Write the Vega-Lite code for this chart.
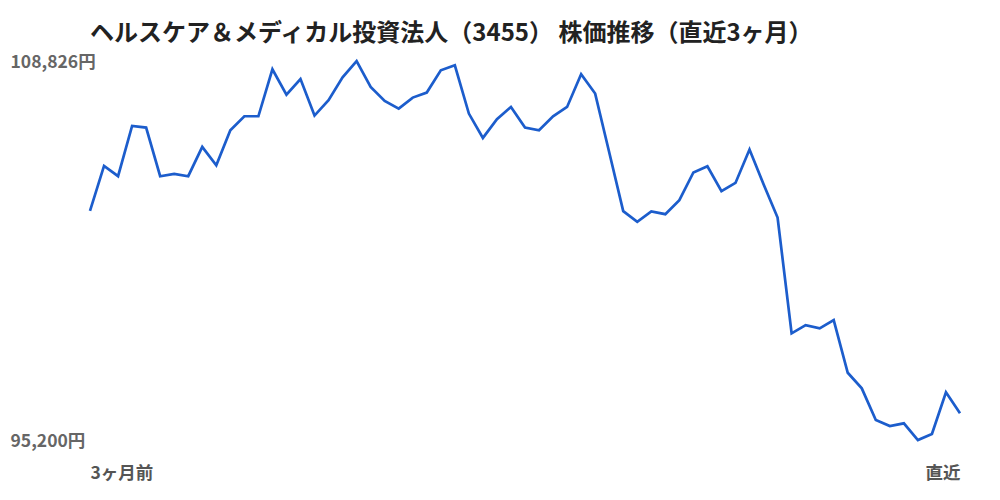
{
  "$schema": "https://vega.github.io/schema/vega-lite/v6.json",
  "autosize": {"type": "none"},
  "width": 870,
  "height": 379,
  "padding": {"left": 90, "top": 61, "right": 40, "bottom": 60},
  "background": "#ffffff",
  "config": {
    "view": {"stroke": null},
    "font": "Noto Sans CJK JP"
  },
  "title": {
    "text": "ヘルスケア＆メディカル投資法人（3455） 株価推移（直近3ヶ月）",
    "anchor": "start",
    "frame": "group",
    "fontSize": 24,
    "fontWeight": "bold",
    "color": "#222222",
    "offset": 7,
    "font": "Noto Sans CJK JP"
  },
  "data": {
    "values": [
      {"i": 0, "price": 103437},
      {"i": 1, "price": 105054},
      {"i": 2, "price": 104684},
      {"i": 3, "price": 106491},
      {"i": 4, "price": 106433},
      {"i": 5, "price": 104684},
      {"i": 6, "price": 104767},
      {"i": 7, "price": 104684},
      {"i": 8, "price": 105737},
      {"i": 9, "price": 105079},
      {"i": 10, "price": 106336},
      {"i": 11, "price": 106839},
      {"i": 12, "price": 106839},
      {"i": 13, "price": 108528},
      {"i": 14, "price": 107619},
      {"i": 15, "price": 108179},
      {"i": 16, "price": 106864},
      {"i": 17, "price": 107414},
      {"i": 18, "price": 108240},
      {"i": 19, "price": 108826},
      {"i": 20, "price": 107892},
      {"i": 21, "price": 107389},
      {"i": 22, "price": 107116},
      {"i": 23, "price": 107511},
      {"i": 24, "price": 107691},
      {"i": 25, "price": 108492},
      {"i": 26, "price": 108672},
      {"i": 27, "price": 106936},
      {"i": 28, "price": 106060},
      {"i": 29, "price": 106732},
      {"i": 30, "price": 107174},
      {"i": 31, "price": 106433},
      {"i": 32, "price": 106336},
      {"i": 33, "price": 106839},
      {"i": 34, "price": 107174},
      {"i": 35, "price": 108348},
      {"i": 36, "price": 107655},
      {"i": 37, "price": 105546},
      {"i": 38, "price": 103427},
      {"i": 39, "price": 103042},
      {"i": 40, "price": 103416},
      {"i": 41, "price": 103319},
      {"i": 42, "price": 103822},
      {"i": 43, "price": 104817},
      {"i": 44, "price": 105043},
      {"i": 45, "price": 104145},
      {"i": 46, "price": 104443},
      {"i": 47, "price": 105643},
      {"i": 48, "price": 104397},
      {"i": 49, "price": 103200},
      {"i": 50, "price": 99033},
      {"i": 51, "price": 99331},
      {"i": 52, "price": 99213},
      {"i": 53, "price": 99511},
      {"i": 54, "price": 97618},
      {"i": 55, "price": 97057},
      {"i": 56, "price": 95918},
      {"i": 57, "price": 95703},
      {"i": 58, "price": 95800},
      {"i": 59, "price": 95200},
      {"i": 60, "price": 95416},
      {"i": 61, "price": 96914},
      {"i": 62, "price": 96159}
    ]
  },
  "mark": {"type": "line", "color": "#1c5dcc", "strokeWidth": 2.7, "strokeJoin": "miter"},
  "encoding": {
    "x": {
      "field": "i",
      "type": "quantitative",
      "scale": {"domain": [0, 62], "nice": false, "zero": false},
      "axis": {
        "title": null,
        "values": [0, 62],
        "labelExpr": "datum.value == 0 ? '3ヶ月前' : '直近'",
        "labelFlush": true,
        "labelFontSize": 17.5,
        "labelFontWeight": "bold",
        "labelColor": "#555555",
        "labelPadding": 24,
        "ticks": false,
        "tickSize": 0,
        "domain": false,
        "grid": false
      }
    },
    "y": {
      "field": "price",
      "type": "quantitative",
      "scale": {"domain": [95200, 108826], "nice": false, "zero": false},
      "axis": {
        "title": null,
        "values": [95200, 108826],
        "labelExpr": "format(datum.value, ',') + '円'",
        "labelAlign": "left",
        "labelBaseline": "middle",
        "labelFlush": false,
        "labelPadding": 80,
        "labelOffset": 1,
        "labelFontSize": 17.5,
        "labelFontWeight": "bold",
        "labelColor": "#666666",
        "ticks": false,
        "tickSize": 0,
        "domain": false,
        "grid": false
      }
    }
  }
}
